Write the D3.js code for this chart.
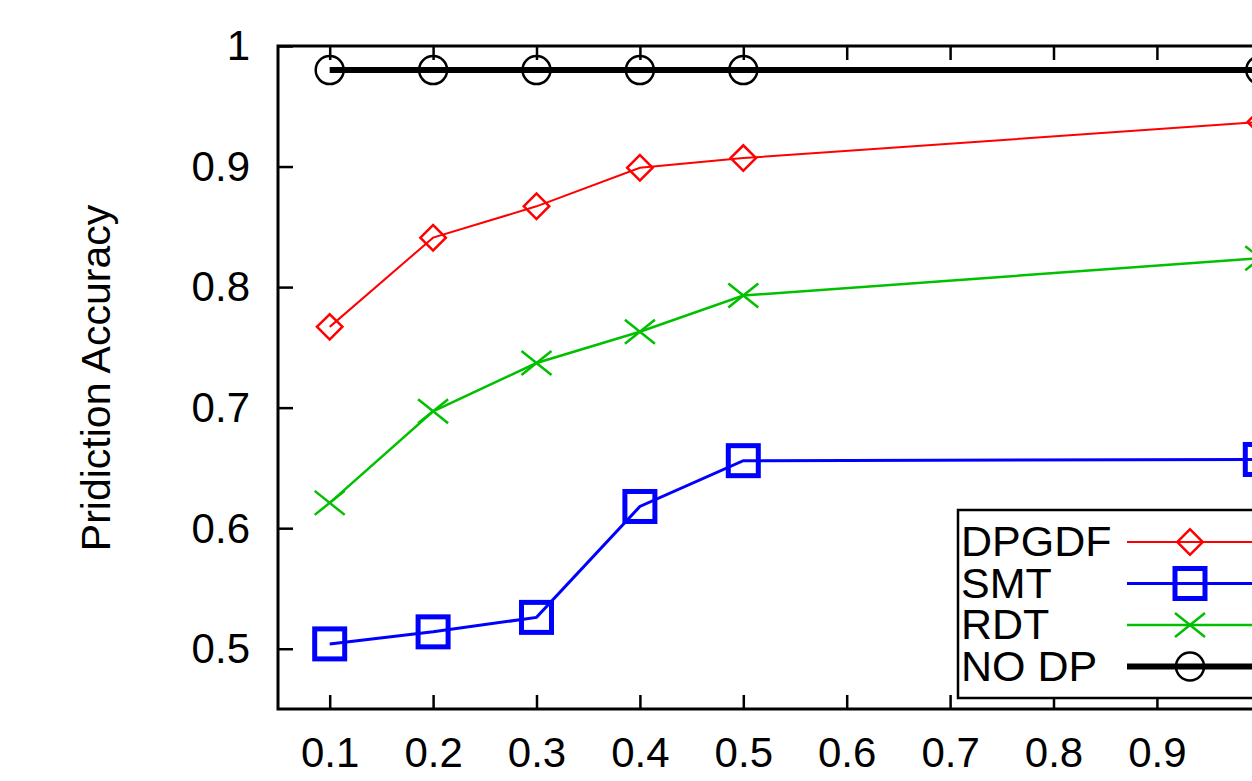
<!DOCTYPE html>
<html>
<head>
<meta charset="utf-8">
<script src="https://cdn.jsdelivr.net/npm/d3@7"></script>
<style>
  html, body { margin: 0; padding: 0; background: #fff; overflow: hidden; }
  svg { display: block; font-family: "Liberation Sans", Arial, sans-serif; }
</style>
</head>
<body>
<div id="chart"></div>
<script>
// privacy budget values on the x axis
const epsilon = [0.1, 0.2, 0.3, 0.4, 0.5, 1.0];
// accuracy of each method
const dpgdf = [0.767, 0.841, 0.867, 0.899, 0.907, 0.937];
const smt = [0.504, 0.514, 0.526, 0.618, 0.656, 0.657];
const rdt = [0.621, 0.697, 0.737, 0.763, 0.793, 0.824];
const nodp = [0.98, 0.98, 0.98, 0.98, 0.98, 0.98];
// tick labels
const xTicks = [0.1, 0.2, 0.3, 0.4, 0.5, 0.6, 0.7, 0.8, 0.9];
const yTicks = [0.5, 0.6, 0.7, 0.8, 0.9, 1.0];
const seriesNames = ['DPGDF', 'SMT', 'RDT', 'NO DP'];

const W = 1252, H = 781;
const margin = { top: 46, left: 278, bottom: 72 };
const plotW = 1312 - margin.left; // right edge runs off the page
const plotH = H - margin.top - margin.bottom;

const svg = d3.select('#chart').append('svg')
    .attr('width', W)
    .attr('height', H);

const g = svg.append('g')
    .attr('transform', `translate(${margin.left},${margin.top})`);

const x = d3.scaleLinear().domain([0.05, 1.05]).range([0, plotW]);
const y = d3.scaleLinear().domain([0.45, 1.0]).range([plotH, 0]);

// axes, ticks pointing inward like gnuplot
const fmt = (d) => d === 1 ? '1' : d3.format('.1f')(d);

const xAxis = g.append('g')
    .attr('transform', `translate(0,${plotH})`)
    .call(d3.axisBottom(x).tickValues(xTicks).tickSizeInner(-14).tickSizeOuter(0).tickPadding(58).tickFormat(fmt));
const xTop = g.append('g')
    .call(d3.axisTop(x).tickValues(xTicks.concat([1.0])).tickSizeInner(-14).tickSizeOuter(0).tickFormat(''));
const yAxis = g.append('g')
    .call(d3.axisLeft(y).tickValues(yTicks).tickSizeInner(-15).tickSizeOuter(0).tickPadding(28).tickFormat(fmt));

[xAxis, xTop, yAxis].forEach((a) => {
    a.select('.domain').remove();
    a.selectAll('line').attr('stroke', '#000').attr('stroke-width', 2.5);
    a.selectAll('text').attr('fill', '#000').style('font-size', '42px')
        .style('font-family', '"Liberation Sans", Arial, sans-serif');
});
yAxis.selectAll('text').attr('dy', '0.33em');
xAxis.selectAll('text').attr('dy', '0');

// frame
g.append('rect')
    .attr('x', 0).attr('y', 0)
    .attr('width', plotW).attr('height', plotH)
    .attr('fill', 'none')
    .attr('stroke', '#000')
    .attr('stroke-width', 3);

// axis title
svg.append('text')
    .attr('transform', `translate(110,378) rotate(-90)`)
    .attr('text-anchor', 'middle')
    .style('font-size', '41px')
    .text('Pridiction Accuracy');

const series = [
    { name: 'DPGDF', values: dpgdf, color: '#ff0000', width: 2, marker: 'diamond' },
    { name: 'SMT', values: smt, color: '#0000ff', width: 3, marker: 'square' },
    { name: 'RDT', values: rdt, color: '#00c000', width: 2.5, marker: 'cross' },
    { name: 'NO DP', values: nodp, color: '#000000', width: 6, marker: 'circle' }
];

function drawMarker(sel, type, color) {
    if (type === 'diamond') {
        sel.append('rect').attr('x', -9).attr('y', -9).attr('width', 18).attr('height', 18)
            .attr('transform', 'rotate(45)')
            .attr('fill', 'none').attr('stroke', color).attr('stroke-width', 2.5);
    } else if (type === 'square') {
        sel.append('rect').attr('x', -15).attr('y', -15).attr('width', 30).attr('height', 30)
            .attr('fill', 'none').attr('stroke', color).attr('stroke-width', 5);
    } else if (type === 'cross') {
        sel.append('path').attr('d', 'M-15,-12L15,12M-15,12L15,-12')
            .attr('stroke', color).attr('stroke-width', 2.5);
    } else {
        sel.append('circle').attr('r', 14)
            .attr('fill', 'none').attr('stroke', color).attr('stroke-width', 2.5);
    }
}

const line = d3.line().x((d) => x(d[0])).y((d) => y(d[1]));

series.forEach((s) => {
    const pts = epsilon.map((e, i) => [e, s.values[i]]);
    g.append('path')
        .datum(pts)
        .attr('d', line)
        .attr('fill', 'none')
        .attr('stroke', s.color)
        .attr('stroke-width', s.width);
    g.selectAll(null)
        .data(pts)
        .enter()
        .append('g')
        .attr('transform', (d) => `translate(${x(d[0])},${y(d[1])})`)
        .each(function () { drawMarker(d3.select(this), s.marker, s.color); });
});

// legend box
const legend = svg.append('g').attr('transform', 'translate(958,510)');
legend.append('rect')
    .attr('x', 0).attr('y', 0)
    .attr('width', 400).attr('height', 188)
    .attr('fill', '#fff')
    .attr('stroke', '#000')
    .attr('stroke-width', 2.5);

series.forEach((s, i) => {
    const cy = 32 + i * 41.5;
    legend.append('text')
        .attr('x', 3).attr('y', cy + 14)
        .style('font-size', '43px')
        .text(seriesNames[i]);
    legend.append('line')
        .attr('x1', 169).attr('x2', 400)
        .attr('y1', cy).attr('y2', cy)
        .attr('stroke', s.color)
        .attr('stroke-width', s.width);
    const m = legend.append('g').attr('transform', `translate(232,${cy})`);
    drawMarker(m, s.marker, s.color);
});
</script>
</body>
</html>
